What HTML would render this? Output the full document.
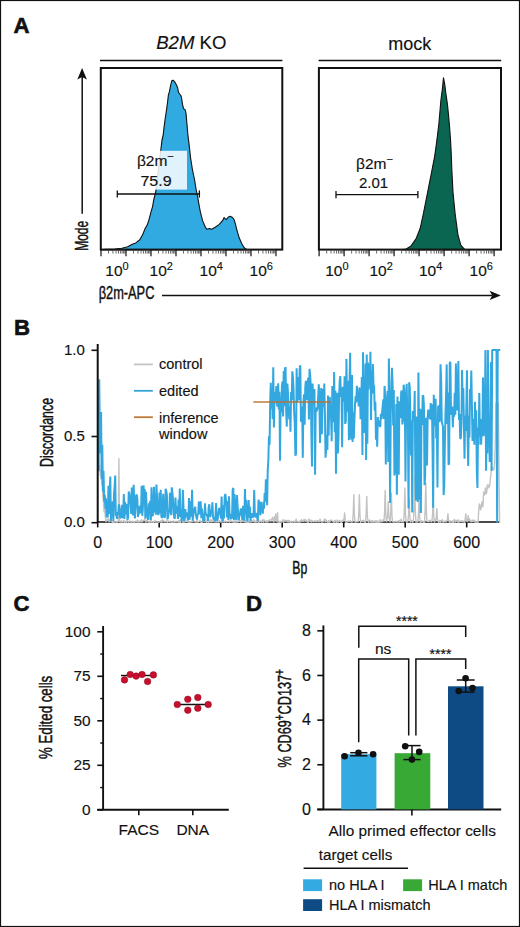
<!DOCTYPE html>
<html><head><meta charset="utf-8"><title>Figure</title>
<style>html,body{margin:0;padding:0;background:#fff;}svg{display:block;}text{font-family:"Liberation Sans", sans-serif;} .cd{stroke:#111;stroke-width:0.45px;} text{stroke:#111;stroke-width:0.15px;}</style>
</head><body>
<svg width="520" height="927" viewBox="0 0 520 927" font-family='"Liberation Sans", sans-serif'>
<rect x="0.5" y="0.5" width="519" height="926" fill="#fff" stroke="#111" stroke-width="1.2"/>
<text x="13.60" y="33.00" font-size="22.2" text-anchor="start" font-weight="bold" font-style="normal" fill="#111" style="stroke:#111;stroke-width:0.6px">A</text>
<text x="14.10" y="335.20" font-size="22.2" text-anchor="start" font-weight="bold" font-style="normal" fill="#111" style="stroke:#111;stroke-width:0.6px">B</text>
<text x="13.60" y="610.50" font-size="22.2" text-anchor="start" font-weight="bold" font-style="normal" fill="#111" style="stroke:#111;stroke-width:0.6px">C</text>
<text x="246.10" y="610.50" font-size="22.2" text-anchor="start" font-weight="bold" font-style="normal" fill="#111" style="stroke:#111;stroke-width:0.6px">D</text>
<polygon points="101.50,249.60 102.90,249.50 106.90,249.30 115.00,249.00 121.90,248.20 127.70,246.70 132.30,244.20 135.80,242.90 139.80,239.80 142.70,234.60 145.00,228.80 147.30,224.80 149.00,219.60 150.80,212.70 152.50,206.90 153.70,200.00 155.80,191.50 158.50,168.50 160.80,150.00 162.00,140.00 163.20,135.00 164.10,126.90 165.00,120.00 166.20,112.20 167.50,102.70 168.40,94.90 169.50,91.40 170.60,85.40 171.90,80.60 173.20,80.20 174.70,81.90 176.50,85.00 177.70,88.00 178.50,92.30 179.70,94.00 181.00,95.80 181.80,99.20 182.50,104.40 183.60,108.70 185.10,109.60 186.00,113.10 186.60,120.00 187.20,126.90 187.90,135.00 189.20,145.40 190.60,158.00 192.50,170.00 194.60,180.00 196.20,190.00 197.70,197.00 198.50,201.90 200.20,211.20 202.50,220.40 205.40,227.30 207.10,229.30 209.40,228.50 211.70,229.30 215.20,227.30 219.20,224.40 222.70,220.40 224.10,217.50 225.20,218.70 226.40,219.50 228.50,216.90 230.20,216.30 232.50,217.50 234.20,219.80 235.40,223.80 237.10,230.80 239.40,238.30 241.70,243.50 244.00,247.50 246.30,249.20 248.00,249.60" fill="#30aae0" stroke="#111" stroke-width="1.1" stroke-linejoin="round"/>
<polygon points="402.00,249.60 405.40,249.40 410.70,246.30 416.00,238.90 420.20,228.30 423.40,213.50 427.60,192.30 431.80,171.20 434.60,156.60 436.00,146.80 437.50,135.20 438.90,123.50 439.90,111.90 440.90,100.20 442.30,89.60 443.50,77.90 444.80,84.70 446.00,94.40 447.40,104.10 448.60,115.80 449.60,127.40 450.60,141.00 451.20,152.70 451.90,171.20 453.00,192.30 455.10,213.50 457.90,234.60 460.80,245.20 464.60,249.40 468.00,249.60" fill="#0a6651" stroke="#111" stroke-width="1.1" stroke-linejoin="round"/>
<rect x="134" y="150.8" width="53" height="38.8" fill="#fff" fill-opacity="0.85"/>
<line x1="117.30" y1="194.00" x2="199.40" y2="194.00" stroke="#111" stroke-width="1.3" />
<line x1="117.30" y1="190.40" x2="117.30" y2="197.60" stroke="#111" stroke-width="1.3" />
<line x1="199.40" y1="190.40" x2="199.40" y2="197.60" stroke="#111" stroke-width="1.3" />
<line x1="336.00" y1="194.60" x2="417.90" y2="194.60" stroke="#111" stroke-width="1.3" />
<line x1="336.00" y1="191.00" x2="336.00" y2="198.20" stroke="#111" stroke-width="1.3" />
<line x1="417.90" y1="191.00" x2="417.90" y2="198.20" stroke="#111" stroke-width="1.3" />
<text x="155.50" y="166.40" font-size="15.5" text-anchor="middle" fill="#111">β2m<tspan font-size="11.5" dy="-6.5">−</tspan></text>
<text x="156.00" y="185.70" font-size="15" text-anchor="middle" font-weight="normal" font-style="normal" fill="#111" textLength="31.2" lengthAdjust="spacingAndGlyphs">75.9</text>
<text x="374.60" y="169.00" font-size="15.5" text-anchor="middle" fill="#111">β2m<tspan font-size="11.5" dy="-6.5">−</tspan></text>
<text x="373.50" y="187.70" font-size="15" text-anchor="middle" font-weight="normal" font-style="normal" fill="#111" >2.01</text>
<rect x="100.8" y="68" width="181.5" height="181.6" fill="none" stroke="#111" stroke-width="2"/>
<rect x="318.9" y="68" width="182.1" height="181.6" fill="none" stroke="#111" stroke-width="2"/>
<line x1="100.00" y1="60.50" x2="282.40" y2="60.50" stroke="#111" stroke-width="1.7" />
<line x1="318.60" y1="60.50" x2="501.20" y2="60.50" stroke="#111" stroke-width="1.7" />
<text x="156.2" y="49.0" font-size="18" fill="#111" textLength="70.2" lengthAdjust="spacingAndGlyphs"><tspan font-style="italic">B2M</tspan> KO</text>
<text x="409.70" y="49.60" font-size="18" text-anchor="middle" font-weight="normal" font-style="normal" fill="#111" >mock</text>
<line x1="101.00" y1="249.60" x2="101.00" y2="256.20" stroke="#111" stroke-width="1.2" />
<line x1="108.53" y1="249.60" x2="108.53" y2="253.60" stroke="#444" stroke-width="0.8" />
<line x1="112.93" y1="249.60" x2="112.93" y2="253.60" stroke="#444" stroke-width="0.8" />
<line x1="116.05" y1="249.60" x2="116.05" y2="253.60" stroke="#444" stroke-width="0.8" />
<line x1="118.47" y1="249.60" x2="118.47" y2="253.60" stroke="#444" stroke-width="0.8" />
<line x1="120.45" y1="249.60" x2="120.45" y2="253.60" stroke="#444" stroke-width="0.8" />
<line x1="122.13" y1="249.60" x2="122.13" y2="253.60" stroke="#444" stroke-width="0.8" />
<line x1="123.58" y1="249.60" x2="123.58" y2="253.60" stroke="#444" stroke-width="0.8" />
<line x1="124.86" y1="249.60" x2="124.86" y2="253.60" stroke="#444" stroke-width="0.8" />
<line x1="126.00" y1="249.60" x2="126.00" y2="256.20" stroke="#111" stroke-width="1.2" />
<line x1="133.53" y1="249.60" x2="133.53" y2="253.60" stroke="#444" stroke-width="0.8" />
<line x1="137.93" y1="249.60" x2="137.93" y2="253.60" stroke="#444" stroke-width="0.8" />
<line x1="141.05" y1="249.60" x2="141.05" y2="253.60" stroke="#444" stroke-width="0.8" />
<line x1="143.47" y1="249.60" x2="143.47" y2="253.60" stroke="#444" stroke-width="0.8" />
<line x1="145.45" y1="249.60" x2="145.45" y2="253.60" stroke="#444" stroke-width="0.8" />
<line x1="147.13" y1="249.60" x2="147.13" y2="253.60" stroke="#444" stroke-width="0.8" />
<line x1="148.58" y1="249.60" x2="148.58" y2="253.60" stroke="#444" stroke-width="0.8" />
<line x1="149.86" y1="249.60" x2="149.86" y2="253.60" stroke="#444" stroke-width="0.8" />
<line x1="151.00" y1="249.60" x2="151.00" y2="256.20" stroke="#111" stroke-width="1.2" />
<line x1="158.53" y1="249.60" x2="158.53" y2="253.60" stroke="#444" stroke-width="0.8" />
<line x1="162.93" y1="249.60" x2="162.93" y2="253.60" stroke="#444" stroke-width="0.8" />
<line x1="166.05" y1="249.60" x2="166.05" y2="253.60" stroke="#444" stroke-width="0.8" />
<line x1="168.47" y1="249.60" x2="168.47" y2="253.60" stroke="#444" stroke-width="0.8" />
<line x1="170.45" y1="249.60" x2="170.45" y2="253.60" stroke="#444" stroke-width="0.8" />
<line x1="172.13" y1="249.60" x2="172.13" y2="253.60" stroke="#444" stroke-width="0.8" />
<line x1="173.58" y1="249.60" x2="173.58" y2="253.60" stroke="#444" stroke-width="0.8" />
<line x1="174.86" y1="249.60" x2="174.86" y2="253.60" stroke="#444" stroke-width="0.8" />
<line x1="176.00" y1="249.60" x2="176.00" y2="256.20" stroke="#111" stroke-width="1.2" />
<line x1="183.53" y1="249.60" x2="183.53" y2="253.60" stroke="#444" stroke-width="0.8" />
<line x1="187.93" y1="249.60" x2="187.93" y2="253.60" stroke="#444" stroke-width="0.8" />
<line x1="191.05" y1="249.60" x2="191.05" y2="253.60" stroke="#444" stroke-width="0.8" />
<line x1="193.47" y1="249.60" x2="193.47" y2="253.60" stroke="#444" stroke-width="0.8" />
<line x1="195.45" y1="249.60" x2="195.45" y2="253.60" stroke="#444" stroke-width="0.8" />
<line x1="197.13" y1="249.60" x2="197.13" y2="253.60" stroke="#444" stroke-width="0.8" />
<line x1="198.58" y1="249.60" x2="198.58" y2="253.60" stroke="#444" stroke-width="0.8" />
<line x1="199.86" y1="249.60" x2="199.86" y2="253.60" stroke="#444" stroke-width="0.8" />
<line x1="201.00" y1="249.60" x2="201.00" y2="256.20" stroke="#111" stroke-width="1.2" />
<line x1="208.53" y1="249.60" x2="208.53" y2="253.60" stroke="#444" stroke-width="0.8" />
<line x1="212.93" y1="249.60" x2="212.93" y2="253.60" stroke="#444" stroke-width="0.8" />
<line x1="216.05" y1="249.60" x2="216.05" y2="253.60" stroke="#444" stroke-width="0.8" />
<line x1="218.47" y1="249.60" x2="218.47" y2="253.60" stroke="#444" stroke-width="0.8" />
<line x1="220.45" y1="249.60" x2="220.45" y2="253.60" stroke="#444" stroke-width="0.8" />
<line x1="222.13" y1="249.60" x2="222.13" y2="253.60" stroke="#444" stroke-width="0.8" />
<line x1="223.58" y1="249.60" x2="223.58" y2="253.60" stroke="#444" stroke-width="0.8" />
<line x1="224.86" y1="249.60" x2="224.86" y2="253.60" stroke="#444" stroke-width="0.8" />
<line x1="226.00" y1="249.60" x2="226.00" y2="256.20" stroke="#111" stroke-width="1.2" />
<line x1="233.53" y1="249.60" x2="233.53" y2="253.60" stroke="#444" stroke-width="0.8" />
<line x1="237.93" y1="249.60" x2="237.93" y2="253.60" stroke="#444" stroke-width="0.8" />
<line x1="241.05" y1="249.60" x2="241.05" y2="253.60" stroke="#444" stroke-width="0.8" />
<line x1="243.47" y1="249.60" x2="243.47" y2="253.60" stroke="#444" stroke-width="0.8" />
<line x1="245.45" y1="249.60" x2="245.45" y2="253.60" stroke="#444" stroke-width="0.8" />
<line x1="247.13" y1="249.60" x2="247.13" y2="253.60" stroke="#444" stroke-width="0.8" />
<line x1="248.58" y1="249.60" x2="248.58" y2="253.60" stroke="#444" stroke-width="0.8" />
<line x1="249.86" y1="249.60" x2="249.86" y2="253.60" stroke="#444" stroke-width="0.8" />
<line x1="251.00" y1="249.60" x2="251.00" y2="256.20" stroke="#111" stroke-width="1.2" />
<line x1="258.53" y1="249.60" x2="258.53" y2="253.60" stroke="#444" stroke-width="0.8" />
<line x1="262.93" y1="249.60" x2="262.93" y2="253.60" stroke="#444" stroke-width="0.8" />
<line x1="266.05" y1="249.60" x2="266.05" y2="253.60" stroke="#444" stroke-width="0.8" />
<line x1="268.47" y1="249.60" x2="268.47" y2="253.60" stroke="#444" stroke-width="0.8" />
<line x1="270.45" y1="249.60" x2="270.45" y2="253.60" stroke="#444" stroke-width="0.8" />
<line x1="272.13" y1="249.60" x2="272.13" y2="253.60" stroke="#444" stroke-width="0.8" />
<line x1="273.58" y1="249.60" x2="273.58" y2="253.60" stroke="#444" stroke-width="0.8" />
<line x1="274.86" y1="249.60" x2="274.86" y2="253.60" stroke="#444" stroke-width="0.8" />
<line x1="276.00" y1="249.60" x2="276.00" y2="256.20" stroke="#111" stroke-width="1.2" />
<line x1="319.10" y1="249.60" x2="319.10" y2="256.20" stroke="#111" stroke-width="1.2" />
<line x1="326.63" y1="249.60" x2="326.63" y2="253.60" stroke="#444" stroke-width="0.8" />
<line x1="331.03" y1="249.60" x2="331.03" y2="253.60" stroke="#444" stroke-width="0.8" />
<line x1="334.15" y1="249.60" x2="334.15" y2="253.60" stroke="#444" stroke-width="0.8" />
<line x1="336.57" y1="249.60" x2="336.57" y2="253.60" stroke="#444" stroke-width="0.8" />
<line x1="338.55" y1="249.60" x2="338.55" y2="253.60" stroke="#444" stroke-width="0.8" />
<line x1="340.23" y1="249.60" x2="340.23" y2="253.60" stroke="#444" stroke-width="0.8" />
<line x1="341.68" y1="249.60" x2="341.68" y2="253.60" stroke="#444" stroke-width="0.8" />
<line x1="342.96" y1="249.60" x2="342.96" y2="253.60" stroke="#444" stroke-width="0.8" />
<line x1="344.10" y1="249.60" x2="344.10" y2="256.20" stroke="#111" stroke-width="1.2" />
<line x1="351.63" y1="249.60" x2="351.63" y2="253.60" stroke="#444" stroke-width="0.8" />
<line x1="356.03" y1="249.60" x2="356.03" y2="253.60" stroke="#444" stroke-width="0.8" />
<line x1="359.15" y1="249.60" x2="359.15" y2="253.60" stroke="#444" stroke-width="0.8" />
<line x1="361.57" y1="249.60" x2="361.57" y2="253.60" stroke="#444" stroke-width="0.8" />
<line x1="363.55" y1="249.60" x2="363.55" y2="253.60" stroke="#444" stroke-width="0.8" />
<line x1="365.23" y1="249.60" x2="365.23" y2="253.60" stroke="#444" stroke-width="0.8" />
<line x1="366.68" y1="249.60" x2="366.68" y2="253.60" stroke="#444" stroke-width="0.8" />
<line x1="367.96" y1="249.60" x2="367.96" y2="253.60" stroke="#444" stroke-width="0.8" />
<line x1="369.10" y1="249.60" x2="369.10" y2="256.20" stroke="#111" stroke-width="1.2" />
<line x1="376.63" y1="249.60" x2="376.63" y2="253.60" stroke="#444" stroke-width="0.8" />
<line x1="381.03" y1="249.60" x2="381.03" y2="253.60" stroke="#444" stroke-width="0.8" />
<line x1="384.15" y1="249.60" x2="384.15" y2="253.60" stroke="#444" stroke-width="0.8" />
<line x1="386.57" y1="249.60" x2="386.57" y2="253.60" stroke="#444" stroke-width="0.8" />
<line x1="388.55" y1="249.60" x2="388.55" y2="253.60" stroke="#444" stroke-width="0.8" />
<line x1="390.23" y1="249.60" x2="390.23" y2="253.60" stroke="#444" stroke-width="0.8" />
<line x1="391.68" y1="249.60" x2="391.68" y2="253.60" stroke="#444" stroke-width="0.8" />
<line x1="392.96" y1="249.60" x2="392.96" y2="253.60" stroke="#444" stroke-width="0.8" />
<line x1="394.10" y1="249.60" x2="394.10" y2="256.20" stroke="#111" stroke-width="1.2" />
<line x1="401.63" y1="249.60" x2="401.63" y2="253.60" stroke="#444" stroke-width="0.8" />
<line x1="406.03" y1="249.60" x2="406.03" y2="253.60" stroke="#444" stroke-width="0.8" />
<line x1="409.15" y1="249.60" x2="409.15" y2="253.60" stroke="#444" stroke-width="0.8" />
<line x1="411.57" y1="249.60" x2="411.57" y2="253.60" stroke="#444" stroke-width="0.8" />
<line x1="413.55" y1="249.60" x2="413.55" y2="253.60" stroke="#444" stroke-width="0.8" />
<line x1="415.23" y1="249.60" x2="415.23" y2="253.60" stroke="#444" stroke-width="0.8" />
<line x1="416.68" y1="249.60" x2="416.68" y2="253.60" stroke="#444" stroke-width="0.8" />
<line x1="417.96" y1="249.60" x2="417.96" y2="253.60" stroke="#444" stroke-width="0.8" />
<line x1="419.10" y1="249.60" x2="419.10" y2="256.20" stroke="#111" stroke-width="1.2" />
<line x1="426.63" y1="249.60" x2="426.63" y2="253.60" stroke="#444" stroke-width="0.8" />
<line x1="431.03" y1="249.60" x2="431.03" y2="253.60" stroke="#444" stroke-width="0.8" />
<line x1="434.15" y1="249.60" x2="434.15" y2="253.60" stroke="#444" stroke-width="0.8" />
<line x1="436.57" y1="249.60" x2="436.57" y2="253.60" stroke="#444" stroke-width="0.8" />
<line x1="438.55" y1="249.60" x2="438.55" y2="253.60" stroke="#444" stroke-width="0.8" />
<line x1="440.23" y1="249.60" x2="440.23" y2="253.60" stroke="#444" stroke-width="0.8" />
<line x1="441.68" y1="249.60" x2="441.68" y2="253.60" stroke="#444" stroke-width="0.8" />
<line x1="442.96" y1="249.60" x2="442.96" y2="253.60" stroke="#444" stroke-width="0.8" />
<line x1="444.10" y1="249.60" x2="444.10" y2="256.20" stroke="#111" stroke-width="1.2" />
<line x1="451.63" y1="249.60" x2="451.63" y2="253.60" stroke="#444" stroke-width="0.8" />
<line x1="456.03" y1="249.60" x2="456.03" y2="253.60" stroke="#444" stroke-width="0.8" />
<line x1="459.15" y1="249.60" x2="459.15" y2="253.60" stroke="#444" stroke-width="0.8" />
<line x1="461.57" y1="249.60" x2="461.57" y2="253.60" stroke="#444" stroke-width="0.8" />
<line x1="463.55" y1="249.60" x2="463.55" y2="253.60" stroke="#444" stroke-width="0.8" />
<line x1="465.23" y1="249.60" x2="465.23" y2="253.60" stroke="#444" stroke-width="0.8" />
<line x1="466.68" y1="249.60" x2="466.68" y2="253.60" stroke="#444" stroke-width="0.8" />
<line x1="467.96" y1="249.60" x2="467.96" y2="253.60" stroke="#444" stroke-width="0.8" />
<line x1="469.10" y1="249.60" x2="469.10" y2="256.20" stroke="#111" stroke-width="1.2" />
<line x1="476.63" y1="249.60" x2="476.63" y2="253.60" stroke="#444" stroke-width="0.8" />
<line x1="481.03" y1="249.60" x2="481.03" y2="253.60" stroke="#444" stroke-width="0.8" />
<line x1="484.15" y1="249.60" x2="484.15" y2="253.60" stroke="#444" stroke-width="0.8" />
<line x1="486.57" y1="249.60" x2="486.57" y2="253.60" stroke="#444" stroke-width="0.8" />
<line x1="488.55" y1="249.60" x2="488.55" y2="253.60" stroke="#444" stroke-width="0.8" />
<line x1="490.23" y1="249.60" x2="490.23" y2="253.60" stroke="#444" stroke-width="0.8" />
<line x1="491.68" y1="249.60" x2="491.68" y2="253.60" stroke="#444" stroke-width="0.8" />
<line x1="492.96" y1="249.60" x2="492.96" y2="253.60" stroke="#444" stroke-width="0.8" />
<line x1="494.10" y1="249.60" x2="494.10" y2="256.20" stroke="#111" stroke-width="1.2" />
<text x="105.30" y="276.20" font-size="15.5" fill="#111">10<tspan font-size="11" dy="-6.6">0</tspan></text>
<text x="149.60" y="276.20" font-size="15.5" fill="#111">10<tspan font-size="11" dy="-6.6">2</tspan></text>
<text x="199.60" y="276.20" font-size="15.5" fill="#111">10<tspan font-size="11" dy="-6.6">4</tspan></text>
<text x="249.60" y="276.20" font-size="15.5" fill="#111">10<tspan font-size="11" dy="-6.6">6</tspan></text>
<text x="325.20" y="276.20" font-size="15.5" fill="#111">10<tspan font-size="11" dy="-6.6">0</tspan></text>
<text x="369.40" y="276.20" font-size="15.5" fill="#111">10<tspan font-size="11" dy="-6.6">2</tspan></text>
<text x="419.00" y="276.20" font-size="15.5" fill="#111">10<tspan font-size="11" dy="-6.6">4</tspan></text>
<text x="469.60" y="276.20" font-size="15.5" fill="#111">10<tspan font-size="11" dy="-6.6">6</tspan></text>
<line x1="82.20" y1="213.80" x2="82.20" y2="76.00" stroke="#111" stroke-width="1.5" />
<polygon points="82.1,68 77.3,79.4 82.1,77 86.9,79.4" fill="#111"/>
<text transform="translate(88.2,250.8) rotate(-90)" font-size="19" fill="#111" textLength="30" class="cd" lengthAdjust="spacingAndGlyphs">Mode</text>
<text x="98.7" y="299.3" font-size="18" fill="#111" textLength="55.7" class="cd" lengthAdjust="spacingAndGlyphs">β2m-APC</text>
<line x1="162.00" y1="295.40" x2="492.00" y2="295.40" stroke="#111" stroke-width="1.5" />
<polygon points="500.8,295.4 489.6,290.8 492.3,295.4 489.6,300" fill="#111"/>
<line x1="97.70" y1="522.00" x2="499.50" y2="522.00" stroke="#111" stroke-width="1.3" />
<line x1="91.50" y1="350.30" x2="97.70" y2="350.30" stroke="#111" stroke-width="1.6" />
<text x="84.90" y="355.00" font-size="15" text-anchor="end" font-weight="normal" font-style="normal" fill="#111" >1.0</text>
<line x1="91.50" y1="436.50" x2="97.70" y2="436.50" stroke="#111" stroke-width="1.6" />
<text x="84.90" y="441.20" font-size="15" text-anchor="end" font-weight="normal" font-style="normal" fill="#111" >0.5</text>
<line x1="91.50" y1="522.70" x2="97.70" y2="522.70" stroke="#111" stroke-width="1.6" />
<text x="84.90" y="527.40" font-size="15" text-anchor="end" font-weight="normal" font-style="normal" fill="#111" >0.0</text>
<line x1="97.70" y1="522.00" x2="97.70" y2="527.40" stroke="#111" stroke-width="1.6" />
<text x="97.70" y="547.70" font-size="16" text-anchor="middle" font-weight="normal" font-style="normal" fill="#111" >0</text>
<line x1="159.20" y1="522.00" x2="159.20" y2="527.40" stroke="#111" stroke-width="1.6" />
<text x="159.20" y="547.70" font-size="16" text-anchor="middle" font-weight="normal" font-style="normal" fill="#111" >100</text>
<line x1="220.70" y1="522.00" x2="220.70" y2="527.40" stroke="#111" stroke-width="1.6" />
<text x="220.70" y="547.70" font-size="16" text-anchor="middle" font-weight="normal" font-style="normal" fill="#111" >200</text>
<line x1="282.20" y1="522.00" x2="282.20" y2="527.40" stroke="#111" stroke-width="1.6" />
<text x="282.20" y="547.70" font-size="16" text-anchor="middle" font-weight="normal" font-style="normal" fill="#111" >300</text>
<line x1="343.70" y1="522.00" x2="343.70" y2="527.40" stroke="#111" stroke-width="1.6" />
<text x="343.70" y="547.70" font-size="16" text-anchor="middle" font-weight="normal" font-style="normal" fill="#111" >400</text>
<line x1="405.20" y1="522.00" x2="405.20" y2="527.40" stroke="#111" stroke-width="1.6" />
<text x="405.20" y="547.70" font-size="16" text-anchor="middle" font-weight="normal" font-style="normal" fill="#111" >500</text>
<line x1="466.70" y1="522.00" x2="466.70" y2="527.40" stroke="#111" stroke-width="1.6" />
<text x="466.70" y="547.70" font-size="16" text-anchor="middle" font-weight="normal" font-style="normal" fill="#111" >600</text>
<text transform="translate(52.5,467.1) rotate(-90)" font-size="18" fill="#111" textLength="69.3" class="cd" lengthAdjust="spacingAndGlyphs">Discordance</text>
<text x="292.3" y="573.7" font-size="17.5" fill="#111" textLength="14.9" class="cd" lengthAdjust="spacingAndGlyphs">Bp</text>
<path d="M98.60,460.34 L99.22,470.68 L99.83,465.51 L100.45,475.85 L101.06,470.68 L101.68,484.47 L102.29,479.30 L102.91,496.54 L103.52,501.71 L104.14,512.06 L104.75,508.61 L105.37,517.23 L105.98,521.57 L106.60,520.52 L107.21,519.52 L107.83,520.15 L108.44,518.13 L109.06,521.76 L109.67,520.35 L110.29,520.81 L110.90,521.14 L111.52,520.67 L112.13,521.89 L112.75,522.39 L113.36,521.04 L113.98,522.07 L114.59,521.86 L115.21,521.60 L115.82,521.46 L116.44,522.34 L117.05,521.88 L117.67,521.84 L118.28,520.61 L118.90,458.61 L119.51,521.68 L120.12,521.98 L120.74,521.26 L121.36,520.85 L121.97,522.35 L122.59,521.35 L123.20,521.56 L123.82,520.33 L124.43,522.29 L125.05,521.71 L125.66,522.16 L126.28,522.35 L126.89,520.29 L127.51,519.84 L128.12,522.16 L128.74,522.21 L129.35,521.39 L129.97,521.02 L130.58,521.75 L131.20,522.26 L131.81,522.11 L132.43,521.27 L133.04,521.69 L133.66,522.37 L134.27,521.74 L134.89,522.10 L135.50,521.00 L136.12,521.53 L136.73,521.75 L137.34,520.10 L137.96,522.37 L138.58,520.97 L139.19,521.49 L139.81,522.08 L140.42,520.72 L141.03,521.87 L141.65,519.80 L142.27,521.72 L142.88,520.27 L143.50,520.76 L144.11,520.34 L144.72,519.38 L145.34,521.01 L145.96,522.18 L146.57,520.30 L147.19,520.62 L147.80,521.01 L148.41,522.08 L149.03,521.60 L149.65,522.35 L150.26,521.46 L150.88,520.36 L151.49,522.21 L152.11,521.62 L152.72,522.07 L153.34,522.34 L153.95,521.50 L154.56,521.65 L155.18,520.46 L155.80,521.98 L156.41,522.16 L157.03,522.05 L157.64,521.92 L158.26,522.12 L158.87,522.35 L159.49,521.73 L160.10,521.33 L160.72,521.80 L161.33,520.40 L161.95,522.26 L162.56,519.87 L163.18,520.22 L163.79,520.92 L164.41,521.73 L165.02,521.26 L165.64,521.62 L166.25,521.71 L166.87,520.25 L167.48,522.33 L168.09,521.08 L168.71,520.98 L169.33,521.72 L169.94,521.48 L170.56,521.26 L171.17,521.98 L171.78,522.27 L172.40,522.15 L173.02,521.98 L173.63,520.69 L174.25,522.10 L174.86,521.61 L175.47,521.82 L176.09,521.32 L176.71,521.62 L177.32,521.78 L177.94,520.94 L178.55,522.12 L179.16,520.12 L179.78,522.22 L180.40,522.39 L181.01,519.41 L181.63,520.41 L182.24,520.55 L182.85,522.32 L183.47,521.12 L184.09,522.08 L184.70,521.32 L185.32,521.64 L185.93,521.80 L186.54,520.61 L187.16,521.38 L187.78,521.76 L188.39,520.74 L189.01,522.38 L189.62,522.39 L190.24,521.94 L190.85,521.52 L191.47,521.82 L192.08,522.09 L192.70,519.96 L193.31,519.96 L193.93,521.17 L194.54,521.48 L195.16,521.75 L195.77,522.15 L196.39,521.87 L197.00,519.81 L197.62,522.14 L198.23,521.83 L198.84,521.34 L199.46,521.37 L200.08,520.20 L200.69,522.10 L201.31,522.03 L201.92,522.36 L202.53,521.97 L203.15,521.16 L203.77,521.17 L204.38,520.63 L205.00,521.53 L205.61,519.21 L206.22,521.95 L206.84,522.37 L207.46,520.58 L208.07,520.15 L208.69,522.32 L209.30,520.59 L209.91,521.38 L210.53,519.34 L211.15,522.09 L211.76,520.26 L212.38,521.31 L212.99,520.26 L213.60,521.56 L214.22,521.32 L214.84,521.36 L215.45,521.76 L216.07,522.13 L216.68,521.44 L217.29,520.37 L217.91,521.78 L218.53,522.10 L219.14,521.37 L219.76,520.63 L220.37,521.75 L220.99,522.20 L221.60,521.53 L222.22,521.60 L222.83,520.71 L223.45,521.89 L224.06,521.56 L224.68,521.95 L225.29,520.93 L225.91,521.53 L226.52,522.02 L227.14,521.80 L227.75,521.31 L228.36,521.29 L228.98,520.96 L229.59,522.11 L230.21,520.92 L230.83,520.96 L231.44,520.95 L232.05,521.70 L232.67,521.89 L233.28,521.13 L233.90,522.28 L234.52,521.76 L235.13,522.36 L235.75,521.57 L236.36,521.60 L236.97,521.92 L237.59,521.93 L238.21,521.72 L238.82,521.32 L239.44,520.91 L240.05,521.04 L240.66,522.23 L241.28,520.03 L241.90,521.21 L242.51,521.25 L243.13,520.98 L243.74,518.56 L244.35,521.93 L244.97,521.40 L245.59,520.52 L246.20,522.29 L246.82,521.33 L247.43,522.18 L248.04,520.61 L248.66,522.38 L249.28,521.90 L249.89,521.79 L250.51,521.20 L251.12,522.09 L251.73,520.96 L252.35,521.09 L252.97,521.21 L253.58,519.41 L254.20,521.94 L254.81,520.87 L255.42,521.96 L256.04,522.13 L256.65,520.11 L257.27,521.46 L257.88,521.69 L258.50,522.19 L259.11,522.10 L259.73,521.83 L260.34,520.71 L260.96,521.22 L261.57,522.01 L262.19,520.44 L262.80,519.64 L263.42,522.17 L264.03,519.91 L264.65,520.43 L265.26,521.01 L265.88,522.22 L266.50,521.50 L267.11,520.55 L267.72,521.99 L268.34,520.70 L268.95,520.78 L269.57,519.83 L270.19,520.94 L270.80,521.19 L271.41,519.18 L272.03,519.19 L272.64,517.30 L273.26,521.31 L273.88,522.11 L274.49,516.79 L275.10,519.77 L275.72,513.84 L276.33,521.47 L276.95,520.56 L277.56,512.78 L278.18,522.37 L278.79,521.25 L279.41,522.39 L280.02,521.67 L280.64,521.30 L281.25,522.30 L281.87,522.16 L282.48,521.31 L283.10,519.60 L283.71,522.24 L284.33,520.94 L284.94,520.09 L285.56,521.24 L286.17,520.90 L286.79,520.24 L287.40,521.79 L288.02,520.42 L288.63,521.96 L289.25,520.32 L289.86,521.24 L290.48,522.37 L291.09,521.94 L291.71,521.19 L292.32,521.89 L292.94,522.17 L293.55,521.42 L294.17,521.13 L294.78,522.01 L295.40,521.97 L296.01,519.12 L296.63,520.62 L297.25,522.34 L297.86,521.82 L298.47,521.58 L299.09,521.77 L299.70,522.19 L300.32,520.52 L300.94,521.66 L301.55,519.73 L302.16,521.10 L302.78,520.97 L303.39,521.34 L304.01,519.38 L304.62,519.57 L305.24,521.38 L305.85,519.79 L306.47,520.51 L307.08,521.63 L307.70,522.09 L308.31,522.26 L308.93,518.85 L309.54,520.71 L310.16,521.33 L310.77,519.91 L311.39,522.04 L312.00,520.77 L312.62,520.91 L313.23,521.61 L313.85,521.73 L314.46,520.85 L315.08,521.41 L315.69,521.11 L316.31,521.70 L316.92,520.36 L317.54,521.02 L318.15,521.61 L318.77,521.00 L319.38,521.64 L320.00,518.94 L320.61,521.09 L321.23,521.71 L321.84,522.12 L322.46,522.01 L323.07,521.21 L323.69,521.43 L324.30,519.29 L324.92,519.06 L325.53,521.89 L326.15,519.97 L326.76,521.17 L327.38,522.14 L328.00,522.29 L328.61,520.56 L329.22,522.28 L329.84,521.65 L330.45,520.65 L331.07,519.97 L331.69,520.31 L332.30,520.97 L332.91,521.54 L333.53,522.06 L334.14,522.31 L334.76,520.28 L335.38,520.60 L335.99,522.11 L336.60,522.32 L337.22,519.86 L337.83,521.88 L338.45,521.77 L339.06,520.85 L339.68,520.37 L340.29,521.28 L340.91,522.38 L341.52,522.35 L342.14,520.17 L342.75,521.39 L343.37,519.82 L343.98,519.56 L344.60,512.92 L345.21,520.03 L345.83,522.26 L346.44,522.20 L347.06,522.26 L347.67,521.33 L348.29,520.95 L348.90,521.54 L349.52,521.34 L350.13,520.62 L350.75,521.43 L351.36,522.12 L351.98,521.77 L352.59,521.82 L353.21,514.12 L353.82,494.82 L354.44,515.50 L355.05,522.08 L355.67,521.89 L356.28,521.52 L356.90,521.79 L357.51,521.52 L358.13,521.35 L358.74,514.12 L359.36,494.82 L359.97,515.50 L360.59,522.27 L361.20,521.24 L361.82,521.34 L362.43,520.45 L363.05,521.28 L363.66,520.23 L364.28,521.86 L364.89,522.26 L365.51,522.31 L366.12,514.64 L366.74,496.54 L367.35,515.93 L367.97,521.08 L368.58,522.32 L369.20,520.52 L369.81,520.02 L370.43,521.04 L371.04,522.32 L371.66,520.80 L372.27,520.57 L372.89,522.15 L373.50,521.17 L374.12,522.06 L374.73,521.10 L375.35,521.97 L375.96,520.60 L376.58,522.32 L377.19,520.83 L377.81,522.30 L378.42,522.19 L379.04,521.05 L379.65,522.39 L380.27,519.59 L380.88,521.18 L381.50,521.82 L382.11,521.67 L382.73,519.87 L383.34,519.97 L383.96,521.25 L384.57,512.83 L385.19,490.51 L385.80,514.43 L386.42,521.66 L387.03,519.15 L387.65,516.19 L388.26,501.71 L388.88,517.23 L389.49,519.83 L390.11,521.90 L390.72,513.61 L391.34,493.09 L391.95,515.07 L392.57,521.60 L393.18,521.65 L393.80,521.91 L394.41,522.20 L395.03,521.89 L395.64,521.23 L396.26,521.28 L396.87,522.04 L397.49,522.11 L398.10,521.76 L398.72,520.70 L399.33,522.11 L399.95,520.27 L400.56,521.44 L401.18,519.10 L401.79,521.84 L402.41,521.55 L403.02,521.92 L403.64,521.35 L404.25,512.06 L404.87,487.92 L405.48,513.78 L406.10,521.58 L406.71,522.38 L407.33,521.53 L407.94,520.84 L408.56,515.16 L409.17,498.26 L409.79,516.37 L410.40,522.14 L411.02,520.27 L411.63,520.79 L412.25,521.52 L412.86,522.20 L413.48,518.82 L414.09,508.44 L414.71,475.85 L415.32,510.76 L415.94,522.03 L416.55,522.14 L417.17,521.96 L417.78,521.67 L418.40,515.16 L419.01,498.26 L419.63,516.37 L420.24,522.28 L420.86,521.91 L421.47,520.85 L422.09,521.52 L422.70,521.14 L423.32,522.30 L423.93,522.18 L424.55,522.27 L425.16,510.50 L425.78,482.75 L426.39,512.49 L427.01,521.34 L427.62,521.26 L428.24,521.54 L428.85,521.55 L429.47,520.62 L430.08,520.16 L430.70,521.15 L431.31,521.70 L431.93,520.92 L432.54,515.16 L433.16,498.26 L433.77,516.37 L434.39,522.06 L435.00,519.19 L435.62,520.68 L436.23,518.26 L436.85,508.61 L437.46,518.95 L438.08,521.27 L438.69,522.29 L439.31,521.35 L439.92,520.46 L440.54,522.23 L441.15,520.58 L441.77,520.56 L442.38,519.60 L443.00,522.27 L443.61,521.79 L444.23,521.91 L444.84,521.22 L445.46,520.89 L446.07,521.81 L446.69,520.94 L447.30,519.81 L447.92,513.78 L448.53,520.25 L449.15,521.31 L449.76,522.38 L450.38,520.66 L450.99,521.52 L451.61,521.82 L452.22,522.26 L452.84,520.82 L453.45,522.38 L454.07,520.09 L454.68,519.57 L455.30,522.12 L455.91,520.94 L456.53,520.27 L457.14,521.15 L457.76,522.15 L458.37,519.82 L458.99,522.09 L459.60,521.39 L460.22,521.06 L460.83,521.46 L461.45,520.83 L462.06,521.61 L462.68,520.89 L463.29,521.87 L463.91,521.26 L464.52,522.27 L465.14,519.81 L465.75,513.78 L466.37,520.25 L466.98,521.64 L467.60,520.33 L468.21,515.50 L468.83,520.68 L469.44,518.79 L470.06,520.58 L470.67,521.36 L471.29,521.76 L471.90,520.32 L472.52,521.49 L473.13,520.09 L473.75,521.27 L474.36,520.13 L474.98,522.06 L475.59,521.43 L476.21,522.14 L476.82,522.26 L477.44,521.14 L478.05,522.31 L478.67,511.07 L479.28,503.83 L479.90,504.83 L480.51,509.76 L481.13,508.68 L481.74,502.99 L482.36,501.61 L482.97,506.72 L483.59,491.97 L484.20,495.13 L484.82,494.18 L485.43,488.05 L486.05,493.81 L486.66,492.68 L487.28,484.85 L487.89,488.20 L488.51,484.95 L489.12,487.03 L489.74,485.39 L490.35,478.77 L490.97,474.19 L491.58,465.73 L492.20,468.61 L492.81,470.19 L493.43,468.39 L494.04,469.13 L494.66,463.52 L495.27,444.82 L495.89,403.44 L496.50,418.96 L497.12,403.44 L497.73,436.20 L498.35,403.44 L498.96,470.68 L499.58,522.40 L500.19,522.40" fill="none" stroke="#c3c3c3" stroke-width="1.4" stroke-linejoin="round"/>
<path d="M98.60,470.68 L99.22,379.31 L99.83,436.20 L100.45,453.44 L101.06,412.06 L101.68,479.30 L102.29,444.82 L102.91,491.37 L103.52,470.68 L104.14,501.71 L104.75,494.82 L105.37,508.61 L105.98,498.26 L106.60,516.23 L107.21,517.12 L107.83,515.97 L108.44,485.83 L109.06,514.02 L109.67,492.30 L110.29,476.59 L110.90,521.14 L111.52,512.39 L112.13,515.70 L112.75,501.25 L113.36,520.97 L113.98,494.20 L114.59,487.32 L115.21,475.57 L115.82,515.47 L116.44,515.26 L117.05,518.90 L117.67,512.10 L118.28,514.83 L118.90,504.39 L119.51,508.52 L120.12,517.74 L120.74,517.87 L121.36,513.50 L121.97,504.91 L122.59,517.08 L123.20,517.77 L123.82,494.05 L124.43,518.98 L125.05,501.73 L125.66,514.35 L126.28,503.96 L126.89,508.78 L127.51,519.85 L128.12,517.30 L128.74,491.41 L129.35,493.69 L129.97,499.45 L130.58,503.36 L131.20,513.92 L131.81,487.45 L132.43,500.14 L133.04,515.45 L133.66,484.75 L134.27,503.65 L134.89,518.42 L135.50,508.43 L136.12,495.26 L136.73,494.78 L137.34,498.61 L137.96,516.95 L138.58,513.32 L139.19,506.35 L139.81,513.78 L140.42,505.42 L141.03,512.62 L141.65,485.76 L142.27,515.82 L142.88,507.65 L143.50,485.44 L144.11,492.11 L144.72,489.03 L145.34,518.76 L145.96,491.70 L146.57,504.43 L147.19,513.46 L147.80,518.88 L148.41,519.60 L149.03,503.37 L149.65,508.77 L150.26,500.80 L150.88,520.29 L151.49,487.29 L152.11,515.31 L152.72,516.00 L153.34,509.42 L153.95,486.79 L154.56,512.41 L155.18,493.88 L155.80,514.61 L156.41,484.49 L157.03,496.21 L157.64,513.00 L158.26,514.87 L158.87,512.86 L159.49,492.61 L160.10,513.28 L160.72,489.89 L161.33,516.11 L161.95,517.91 L162.56,515.76 L163.18,493.80 L163.79,513.20 L164.41,517.85 L165.02,516.03 L165.64,488.65 L166.25,490.93 L166.87,494.78 L167.48,519.36 L168.09,516.82 L168.71,512.81 L169.33,510.04 L169.94,492.80 L170.56,505.95 L171.17,515.28 L171.78,487.27 L172.40,493.11 L173.02,499.19 L173.63,512.87 L174.25,517.89 L174.86,518.54 L175.47,497.49 L176.09,513.49 L176.71,512.53 L177.32,505.96 L177.94,518.93 L178.55,499.63 L179.16,516.86 L179.78,488.63 L180.40,517.25 L181.01,509.52 L181.63,521.14 L182.24,516.13 L182.85,489.86 L183.47,506.82 L184.09,521.30 L184.70,519.29 L185.32,509.12 L185.93,517.30 L186.54,515.33 L187.16,512.45 L187.78,519.65 L188.39,519.84 L189.01,498.12 L189.62,519.84 L190.24,501.39 L190.85,516.60 L191.47,514.37 L192.08,489.85 L192.70,520.71 L193.31,514.69 L193.93,508.47 L194.54,512.91 L195.16,506.68 L195.77,513.98 L196.39,517.14 L197.00,519.60 L197.62,513.78 L198.23,514.73 L198.84,501.54 L199.46,512.27 L200.08,514.04 L200.69,501.38 L201.31,518.23 L201.92,508.66 L202.53,514.25 L203.15,521.27 L203.77,520.93 L204.38,519.90 L205.00,503.28 L205.61,513.20 L206.22,514.68 L206.84,515.00 L207.46,516.87 L208.07,520.72 L208.69,507.33 L209.30,504.20 L209.91,516.58 L210.53,516.23 L211.15,509.59 L211.76,513.00 L212.38,502.30 L212.99,516.57 L213.60,519.63 L214.22,516.77 L214.84,521.27 L215.45,516.65 L216.07,503.07 L216.68,516.88 L217.29,520.91 L217.91,517.61 L218.53,512.78 L219.14,508.16 L219.76,508.78 L220.37,513.00 L220.99,518.53 L221.60,496.48 L222.22,520.31 L222.83,521.32 L223.45,505.24 L224.06,518.48 L224.68,496.44 L225.29,493.95 L225.91,498.89 L226.52,505.90 L227.14,517.40 L227.75,501.07 L228.36,520.02 L228.98,496.18 L229.59,516.52 L230.21,515.74 L230.83,519.33 L231.44,513.85 L232.05,518.54 L232.67,489.65 L233.28,487.96 L233.90,520.27 L234.52,494.05 L235.13,508.16 L235.75,517.54 L236.36,520.34 L236.97,494.97 L237.59,505.83 L238.21,512.90 L238.82,520.44 L239.44,514.35 L240.05,515.04 L240.66,508.75 L241.28,509.49 L241.90,516.66 L242.51,520.15 L243.13,505.76 L243.74,512.15 L244.35,520.63 L244.97,489.01 L245.59,514.29 L246.20,499.87 L246.82,517.46 L247.43,521.41 L248.04,513.53 L248.66,500.16 L249.28,517.69 L249.89,506.63 L250.51,521.39 L251.12,513.94 L251.73,513.38 L252.35,517.70 L252.97,516.76 L253.58,513.91 L254.20,489.91 L254.81,514.16 L255.42,517.69 L256.04,513.20 L256.65,514.26 L257.27,517.69 L257.88,520.87 L258.50,499.82 L259.11,502.36 L259.73,505.16 L260.34,515.50 L260.96,501.71 L261.57,512.06 L262.19,505.16 L262.80,513.78 L263.42,501.71 L264.03,508.61 L264.65,493.09 L265.26,501.71 L265.88,479.30 L266.50,491.37 L267.11,505.16 L267.72,470.68 L268.34,460.34 L268.95,436.20 L269.57,444.82 L270.19,401.72 L270.80,382.76 L271.41,408.62 L272.03,393.10 L272.64,418.96 L273.26,367.24 L273.88,427.58 L274.49,398.95 L275.10,391.87 L275.72,400.88 L276.33,386.10 L276.95,403.88 L277.56,406.82 L278.18,383.22 L278.79,409.56 L279.41,391.69 L280.02,460.77 L280.64,397.56 L281.25,412.38 L281.87,386.75 L282.48,381.24 L283.10,416.40 L283.71,370.89 L284.33,406.22 L284.94,369.14 L285.56,367.02 L286.17,410.75 L286.79,426.61 L287.40,383.45 L288.02,393.91 L288.63,405.77 L289.25,419.55 L289.86,406.57 L290.48,431.62 L291.09,392.11 L291.71,400.13 L292.32,371.39 L292.94,376.75 L293.55,389.38 L294.17,412.58 L294.78,423.56 L295.40,455.70 L296.01,453.97 L296.63,368.26 L297.25,401.86 L297.86,391.57 L298.47,377.01 L299.09,400.26 L299.70,368.36 L300.32,365.31 L300.94,421.74 L301.55,415.73 L302.16,406.50 L302.78,457.78 L303.39,402.42 L304.01,394.25 L304.62,424.80 L305.24,387.86 L305.85,380.74 L306.47,390.11 L307.08,400.13 L307.70,381.52 L308.31,377.73 L308.93,419.61 L309.54,368.78 L310.16,375.27 L310.77,385.70 L311.39,435.29 L312.00,466.53 L312.62,383.48 L313.23,405.47 L313.85,390.20 L314.46,389.13 L315.08,474.71 L315.69,407.46 L316.31,411.53 L316.92,410.13 L317.54,408.41 L318.15,397.76 L318.77,384.21 L319.38,396.59 L320.00,443.02 L320.61,420.75 L321.23,387.98 L321.84,434.12 L322.46,406.73 L323.07,389.00 L323.69,406.99 L324.30,383.60 L324.92,414.39 L325.53,457.68 L326.15,449.08 L326.76,434.87 L327.38,450.07 L328.00,395.52 L328.61,435.51 L329.22,407.50 L329.84,397.05 L330.45,417.33 L331.07,416.87 L331.69,441.26 L332.30,386.02 L332.91,397.80 L333.53,422.31 L334.14,372.07 L334.76,432.20 L335.38,390.70 L335.99,473.64 L336.60,405.78 L337.22,392.76 L337.83,453.51 L338.45,438.49 L339.06,398.36 L339.68,381.48 L340.29,376.10 L340.91,396.92 L341.52,388.21 L342.14,447.26 L342.75,386.88 L343.37,392.24 L343.98,401.69 L344.60,376.33 L345.21,423.90 L345.83,420.70 L346.44,358.81 L347.06,411.83 L347.67,388.53 L348.29,380.76 L348.90,440.15 L349.52,383.50 L350.13,352.66 L350.75,435.05 L351.36,439.52 L351.98,374.92 L352.59,441.91 L353.21,412.39 L353.82,438.59 L354.44,419.27 L355.05,403.89 L355.67,396.20 L356.28,402.41 L356.90,385.74 L357.51,397.88 L358.13,397.51 L358.74,406.41 L359.36,387.62 L359.97,391.98 L360.59,419.28 L361.20,405.14 L361.82,376.96 L362.43,455.03 L363.05,352.24 L363.66,409.18 L364.28,432.94 L364.89,418.75 L365.51,363.42 L366.12,459.98 L366.74,354.59 L367.35,443.76 L367.97,362.46 L368.58,389.48 L369.20,364.68 L369.81,382.44 L370.43,351.80 L371.04,420.08 L371.66,370.86 L372.27,393.63 L372.89,364.08 L373.50,384.96 L374.12,386.55 L374.73,410.40 L375.35,401.66 L375.96,439.83 L376.58,424.26 L377.19,446.83 L377.81,417.12 L378.42,426.01 L379.04,420.99 L379.65,424.13 L380.27,427.06 L380.88,413.85 L381.50,418.97 L382.11,412.10 L382.73,405.49 L383.34,399.47 L383.96,419.03 L384.57,385.91 L385.19,395.29 L385.80,464.53 L386.42,422.55 L387.03,402.15 L387.65,390.69 L388.26,461.88 L388.88,358.41 L389.49,413.55 L390.11,502.94 L390.72,414.98 L391.34,388.40 L391.95,367.75 L392.57,382.45 L393.18,425.60 L393.80,389.91 L394.41,475.49 L395.03,425.31 L395.64,473.61 L396.26,404.13 L396.87,494.75 L397.49,396.54 L398.10,446.61 L398.72,474.73 L399.33,401.24 L399.95,414.98 L400.56,417.96 L401.18,392.22 L401.79,390.57 L402.41,424.48 L403.02,420.23 L403.64,384.70 L404.25,389.13 L404.87,402.95 L405.48,481.48 L406.10,403.92 L406.71,383.80 L407.33,418.39 L407.94,426.58 L408.56,508.58 L409.17,382.36 L409.79,387.85 L410.40,421.00 L411.02,455.57 L411.63,420.42 L412.25,512.38 L412.86,410.96 L413.48,418.58 L414.09,420.34 L414.71,391.06 L415.32,472.40 L415.94,500.56 L416.55,416.60 L417.17,468.66 L417.78,501.99 L418.40,372.62 L419.01,427.12 L419.63,499.84 L420.24,408.81 L420.86,512.97 L421.47,409.67 L422.09,424.93 L422.70,395.30 L423.32,395.98 L423.93,405.96 L424.55,485.18 L425.16,475.46 L425.78,417.68 L426.39,424.25 L427.01,465.53 L427.62,418.80 L428.24,409.68 L428.85,411.78 L429.47,417.63 L430.08,418.89 L430.70,402.99 L431.31,420.05 L431.93,404.22 L432.54,447.63 L433.16,507.65 L433.77,394.71 L434.39,426.12 L435.00,412.03 L435.62,398.84 L436.23,438.60 L436.85,423.96 L437.46,487.60 L438.08,407.26 L438.69,405.44 L439.31,422.15 L439.92,418.96 L440.54,364.22 L441.15,381.46 L441.77,421.35 L442.38,424.30 L443.00,426.45 L443.61,495.07 L444.23,486.18 L444.84,444.72 L445.46,412.95 L446.07,396.21 L446.69,364.39 L447.30,424.06 L447.92,392.57 L448.53,464.90 L449.15,462.96 L449.76,362.44 L450.38,362.17 L450.99,412.27 L451.61,414.89 L452.22,406.46 L452.84,427.40 L453.45,409.32 L454.07,416.95 L454.68,392.71 L455.30,414.71 L455.91,363.40 L456.53,397.41 L457.14,410.42 L457.76,394.20 L458.37,361.00 L458.99,419.99 L459.60,414.06 L460.22,438.51 L460.83,438.39 L461.45,422.91 L462.06,369.90 L462.68,404.23 L463.29,388.13 L463.91,423.87 L464.52,458.67 L465.14,415.73 L465.75,431.08 L466.37,407.28 L466.98,370.18 L467.60,437.01 L468.21,466.09 L468.83,415.71 L469.44,437.63 L470.06,388.98 L470.67,401.37 L471.29,370.54 L471.90,405.07 L472.52,441.01 L473.13,420.30 L473.75,418.96 L474.36,444.82 L474.98,401.72 L475.59,436.20 L476.21,410.34 L476.82,470.68 L477.44,487.92 L478.05,427.58 L478.67,444.82 L479.28,393.10 L479.90,436.20 L480.51,418.96 L481.13,444.82 L481.74,427.58 L482.36,436.20 L482.97,377.58 L483.59,436.20 L484.20,427.58 L484.82,418.96 L485.43,350.00 L486.05,470.68 L486.66,436.20 L487.28,453.44 L487.89,350.00 L488.51,444.82 L489.12,436.20 L489.74,462.06 L490.35,418.96 L490.97,362.07 L491.58,470.68 L492.20,350.00 L492.81,350.00 L493.43,350.00 L494.04,350.00 L494.66,350.00 L495.27,350.00 L495.89,350.00 L496.50,350.00 L497.12,522.40 L497.73,350.00 L498.35,350.00 L498.96,350.00 L499.58,350.00 L500.19,350.00" fill="none" stroke="#33a7df" stroke-width="2.0" stroke-linejoin="bevel"/>
<line x1="97.70" y1="344.00" x2="97.70" y2="522.40" stroke="#111" stroke-width="2.0" />
<line x1="253.30" y1="402.00" x2="330.80" y2="402.00" stroke="#b5722f" stroke-width="1.7" stroke-opacity="0.92"/>
<line x1="134.00" y1="364.40" x2="152.80" y2="364.40" stroke="#c3c3c3" stroke-width="1.8" />
<line x1="134.00" y1="390.80" x2="152.80" y2="390.80" stroke="#34a5dc" stroke-width="1.8" />
<line x1="134.00" y1="417.20" x2="152.80" y2="417.20" stroke="#c07a35" stroke-width="1.8" />
<text x="159.00" y="368.70" font-size="14.5" text-anchor="start" font-weight="normal" font-style="normal" fill="#111" >control</text>
<text x="159.00" y="395.60" font-size="14.5" text-anchor="start" font-weight="normal" font-style="normal" fill="#111" >edited</text>
<text x="159.00" y="422.50" font-size="14.5" text-anchor="start" font-weight="normal" font-style="normal" fill="#111" >inference</text>
<text x="159.00" y="439.20" font-size="14.5" text-anchor="start" font-weight="normal" font-style="normal" fill="#111" >window</text>
<line x1="103.10" y1="626.00" x2="103.10" y2="809.80" stroke="#111" stroke-width="1.9" />
<line x1="97.30" y1="809.70" x2="228.80" y2="809.70" stroke="#111" stroke-width="1.9" />
<line x1="97.30" y1="809.80" x2="103.10" y2="809.80" stroke="#111" stroke-width="1.6" />
<text x="90.50" y="814.50" font-size="15.4" text-anchor="end" font-weight="normal" font-style="normal" fill="#111" >0</text>
<line x1="97.30" y1="765.30" x2="103.10" y2="765.30" stroke="#111" stroke-width="1.6" />
<text x="90.50" y="770.00" font-size="15.4" text-anchor="end" font-weight="normal" font-style="normal" fill="#111" >25</text>
<line x1="97.30" y1="720.80" x2="103.10" y2="720.80" stroke="#111" stroke-width="1.6" />
<text x="90.50" y="725.50" font-size="15.4" text-anchor="end" font-weight="normal" font-style="normal" fill="#111" >50</text>
<line x1="97.30" y1="676.30" x2="103.10" y2="676.30" stroke="#111" stroke-width="1.6" />
<text x="90.50" y="681.00" font-size="15.4" text-anchor="end" font-weight="normal" font-style="normal" fill="#111" >75</text>
<line x1="97.30" y1="631.80" x2="103.10" y2="631.80" stroke="#111" stroke-width="1.6" />
<text x="90.50" y="636.50" font-size="15.4" text-anchor="end" font-weight="normal" font-style="normal" fill="#111" >100</text>
<line x1="100.20" y1="787.55" x2="103.10" y2="787.55" stroke="#111" stroke-width="1.4" />
<line x1="100.20" y1="743.05" x2="103.10" y2="743.05" stroke="#111" stroke-width="1.4" />
<line x1="100.20" y1="698.55" x2="103.10" y2="698.55" stroke="#111" stroke-width="1.4" />
<line x1="100.20" y1="654.05" x2="103.10" y2="654.05" stroke="#111" stroke-width="1.4" />
<line x1="138.80" y1="809.80" x2="138.80" y2="815.20" stroke="#111" stroke-width="1.6" />
<text x="138.80" y="835.10" font-size="15.5" text-anchor="middle" font-weight="normal" font-style="normal" fill="#111" >FACS</text>
<line x1="192.80" y1="809.80" x2="192.80" y2="815.20" stroke="#111" stroke-width="1.6" />
<text x="192.80" y="835.10" font-size="15.5" text-anchor="middle" font-weight="normal" font-style="normal" fill="#111" >DNA</text>
<text transform="translate(52.1,759.0) rotate(-90)" font-size="18" fill="#111" textLength="83.2" class="cd" lengthAdjust="spacingAndGlyphs">% Edited cells</text>
<line x1="121.00" y1="675.50" x2="153.00" y2="675.50" stroke="#111" stroke-width="1.4" />
<line x1="175.60" y1="704.50" x2="209.40" y2="704.50" stroke="#111" stroke-width="1.4" />
<circle cx="124.5" cy="679.9" r="3.3" fill="#c8102e" stroke="#8c0b20" stroke-width="0.5"/>
<circle cx="130.2" cy="674.5" r="3.3" fill="#c8102e" stroke="#8c0b20" stroke-width="0.5"/>
<circle cx="136.1" cy="676.1" r="3.3" fill="#c8102e" stroke="#8c0b20" stroke-width="0.5"/>
<circle cx="142.0" cy="674.5" r="3.3" fill="#c8102e" stroke="#8c0b20" stroke-width="0.5"/>
<circle cx="147.6" cy="681.5" r="3.3" fill="#c8102e" stroke="#8c0b20" stroke-width="0.5"/>
<circle cx="153.4" cy="674.9" r="3.3" fill="#c8102e" stroke="#8c0b20" stroke-width="0.5"/>
<circle cx="177.3" cy="704.5" r="3.3" fill="#c8102e" stroke="#8c0b20" stroke-width="0.5"/>
<circle cx="187.8" cy="699.3" r="3.3" fill="#c8102e" stroke="#8c0b20" stroke-width="0.5"/>
<circle cx="187.8" cy="710.2" r="3.3" fill="#c8102e" stroke="#8c0b20" stroke-width="0.5"/>
<circle cx="197.8" cy="697.5" r="3.3" fill="#c8102e" stroke="#8c0b20" stroke-width="0.5"/>
<circle cx="197.8" cy="708.2" r="3.3" fill="#c8102e" stroke="#8c0b20" stroke-width="0.5"/>
<circle cx="208.2" cy="704.5" r="3.3" fill="#c8102e" stroke="#8c0b20" stroke-width="0.5"/>
<line x1="323.40" y1="625.40" x2="323.40" y2="809.40" stroke="#111" stroke-width="1.9" />
<line x1="317.30" y1="809.50" x2="501.20" y2="809.50" stroke="#111" stroke-width="1.9" />
<line x1="317.30" y1="809.40" x2="323.40" y2="809.40" stroke="#111" stroke-width="1.6" />
<text x="310.90" y="814.70" font-size="16" text-anchor="end" font-weight="normal" font-style="normal" fill="#111" >0</text>
<line x1="317.30" y1="764.76" x2="323.40" y2="764.76" stroke="#111" stroke-width="1.6" />
<text x="310.90" y="770.06" font-size="16" text-anchor="end" font-weight="normal" font-style="normal" fill="#111" >2</text>
<line x1="317.30" y1="720.12" x2="323.40" y2="720.12" stroke="#111" stroke-width="1.6" />
<text x="310.90" y="725.42" font-size="16" text-anchor="end" font-weight="normal" font-style="normal" fill="#111" >4</text>
<line x1="317.30" y1="675.48" x2="323.40" y2="675.48" stroke="#111" stroke-width="1.6" />
<text x="310.90" y="680.78" font-size="16" text-anchor="end" font-weight="normal" font-style="normal" fill="#111" >6</text>
<line x1="317.30" y1="630.84" x2="323.40" y2="630.84" stroke="#111" stroke-width="1.6" />
<text x="310.90" y="636.14" font-size="16" text-anchor="end" font-weight="normal" font-style="normal" fill="#111" >8</text>
<rect x="341.2" y="754.2" width="35.20" height="55.20" fill="#33aae2"/>
<rect x="394.6" y="753.2" width="35.70" height="56.20" fill="#39a935"/>
<rect x="448.0" y="686.3" width="35.50" height="123.10" fill="#0e4a84"/>
<line x1="411.90" y1="809.40" x2="411.90" y2="815.50" stroke="#111" stroke-width="1.6" />
<line x1="358.80" y1="752.70" x2="358.80" y2="755.80" stroke="#111" stroke-width="1.5" />
<line x1="350.20" y1="752.70" x2="367.40" y2="752.70" stroke="#111" stroke-width="1.5" />
<line x1="350.20" y1="755.80" x2="367.40" y2="755.80" stroke="#111" stroke-width="1.5" />
<line x1="412.00" y1="745.60" x2="412.00" y2="759.60" stroke="#111" stroke-width="1.5" />
<line x1="403.40" y1="745.60" x2="420.60" y2="745.60" stroke="#111" stroke-width="1.5" />
<line x1="403.40" y1="759.60" x2="420.60" y2="759.60" stroke="#111" stroke-width="1.5" />
<line x1="465.70" y1="680.00" x2="465.70" y2="692.10" stroke="#111" stroke-width="1.5" />
<line x1="456.80" y1="680.00" x2="474.60" y2="680.00" stroke="#111" stroke-width="1.5" />
<line x1="456.80" y1="692.10" x2="474.60" y2="692.10" stroke="#111" stroke-width="1.5" />
<circle cx="344.6" cy="756.2" r="3.3" fill="#111"/>
<circle cx="358.5" cy="752.7" r="3.3" fill="#111"/>
<circle cx="373.1" cy="754.2" r="3.3" fill="#111"/>
<circle cx="405.2" cy="746.2" r="3.3" fill="#111"/>
<circle cx="419.2" cy="751.9" r="3.3" fill="#111"/>
<circle cx="411.9" cy="759.6" r="3.3" fill="#111"/>
<circle cx="465.6" cy="678.3" r="3.3" fill="#111"/>
<circle cx="458.7" cy="691" r="3.3" fill="#111"/>
<circle cx="472.5" cy="688.1" r="3.3" fill="#111"/>
<polyline points="358.8,647.7 358.8,626.2 465.7,626.2 465.7,637" fill="none" stroke="#111" stroke-width="1.5"/>
<polyline points="358.7,742.3 358.7,659.1 408.7,659.1 408.7,735.6" fill="none" stroke="#111" stroke-width="1.5"/>
<polyline points="415.9,735.6 415.9,658.9 465.7,658.9 465.7,668.9" fill="none" stroke="#111" stroke-width="1.5"/>
<text x="406.90" y="626.00" font-size="14" text-anchor="middle" font-weight="normal" font-style="normal" fill="#111" >****</text>
<text x="383.10" y="654.30" font-size="15.5" text-anchor="middle" font-weight="normal" font-style="normal" fill="#111" >ns</text>
<text x="440.50" y="659.20" font-size="14" text-anchor="middle" font-weight="normal" font-style="normal" fill="#111" >****</text>
<text transform="translate(290.7,767.4) rotate(-90)" font-size="18" fill="#111" textLength="98.3" class="cd" lengthAdjust="spacingAndGlyphs">% CD69<tspan font-size="14" dy="-6.5">+</tspan><tspan dy="6.5">CD137</tspan><tspan font-size="14" dy="-6.5">+</tspan></text>
<text x="328.60" y="835.50" font-size="15.4" text-anchor="start" font-weight="normal" font-style="normal" fill="#111" >Allo primed effector cells</text>
<text x="318.80" y="859.70" font-size="15.2" text-anchor="start" font-weight="normal" font-style="normal" fill="#111" >target cells</text>
<line x1="303.60" y1="868.30" x2="408.00" y2="868.30" stroke="#111" stroke-width="1.5" />
<rect x="303.1" y="879.3" width="19" height="11.8" fill="#33aae2"/>
<rect x="403.1" y="879.3" width="19" height="11.8" fill="#39a935"/>
<rect x="303.1" y="899.2" width="19" height="11.8" fill="#0e4a84"/>
<text x="329.00" y="889.70" font-size="14.5" text-anchor="start" font-weight="normal" font-style="normal" fill="#111" >no HLA I</text>
<text x="428.30" y="889.60" font-size="14.5" text-anchor="start" font-weight="normal" font-style="normal" fill="#111" >HLA I match</text>
<text x="329.00" y="909.50" font-size="14.5" text-anchor="start" font-weight="normal" font-style="normal" fill="#111" >HLA I mismatch</text>
</svg>
</body></html>
